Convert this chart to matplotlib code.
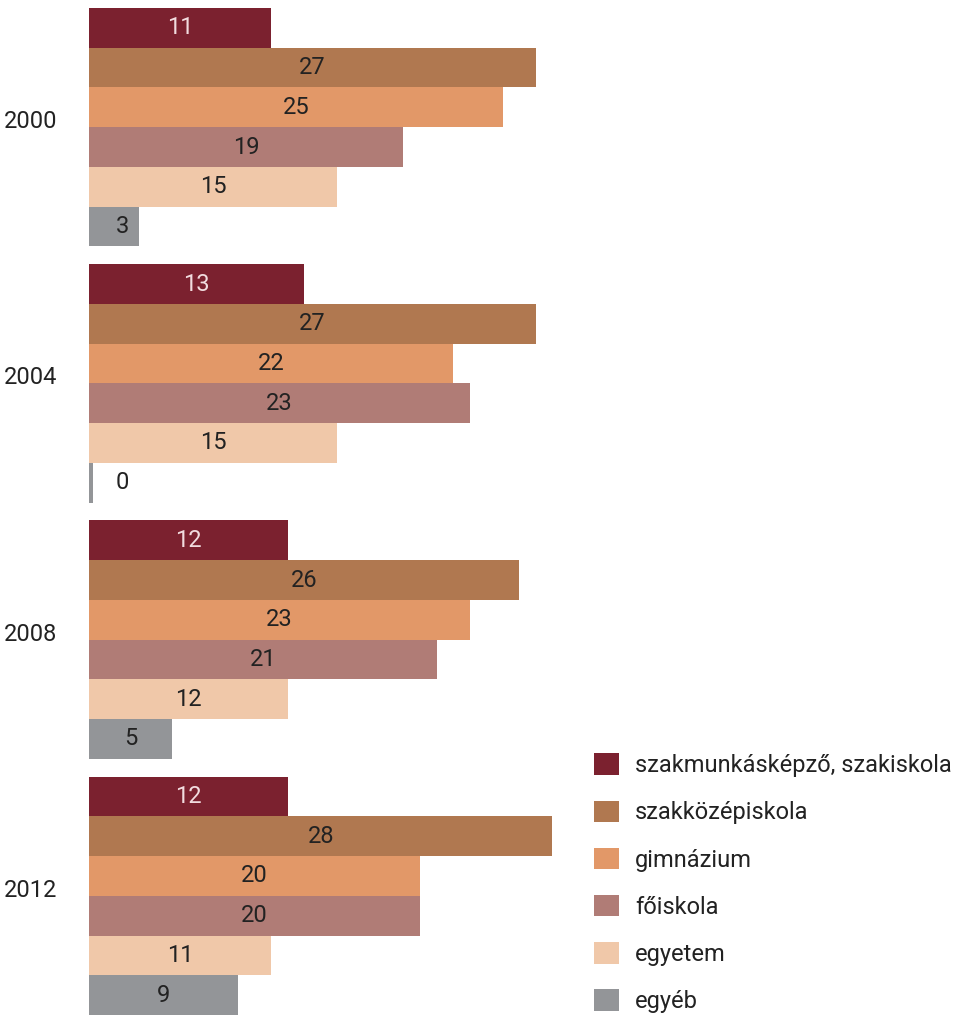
import matplotlib
matplotlib.use("Agg")
import matplotlib.pyplot as plt
from matplotlib.patches import Patch

years = ["2000", "2004", "2008", "2012"]
categories = ["szakmunkásképző, szakiskola", "szakközépiskola", "gimnázium",
              "főiskola", "egyetem", "egyéb"]
szakmunkas = [11, 13, 12, 12]
szakkozep = [27, 27, 26, 28]
gimnazium = [25, 22, 23, 20]
foiskola = [19, 23, 21, 20]
egyetem = [15, 15, 12, 11]
egyeb = [3, 0, 5, 9]
series = [szakmunkas, szakkozep, gimnazium, foiskola, egyetem, egyeb]

colors = ["#7B212F", "#B07850", "#E29868", "#B07C76", "#F0C8A9", "#939598"]
text_colors = ["#F2DCDF", "#222222", "#222222", "#222222", "#222222", "#222222"]

plt.rcParams['font.family'] = ['Roboto', 'DejaVu Sans']
FS = 17

W, H = 963, 1015
fig = plt.figure(figsize=(W / 100, H / 100), dpi=100)
px_per_unit = 16.55
xmax = 30
ax = fig.add_axes([89 / W, 0, xmax * px_per_unit / W, 1 - 8 / H])

period = 6.45
n = len(categories)
for g, year in enumerate(years):
    for i, (vals, c, tc) in enumerate(zip(series, colors, text_colors)):
        y = g * period + i + 0.5
        v = vals[g]
        w = v if v > 0 else 0.25
        ax.barh(y, w, height=1.0, color=c, linewidth=0)
        ax.text(max(v / 2, 2), y, str(v), ha="center", va="center",
                fontsize=FS, color=tc)

ax.set_ylim(3 * period + n, 0)
ax.set_xlim(0, xmax)
ax.set_yticks([g * period + n / 2 - 0.2 for g in range(len(years))])
ax.set_yticklabels(years, fontsize=FS, color="#222222")
ax.tick_params(axis="y", length=0, pad=23)
ax.set_xticks([])
for s in ax.spines.values():
    s.set_visible(False)

handles = [Patch(facecolor=c, edgecolor="none") for c in colors]
fig.legend(handles, categories, loc="upper left",
           bbox_to_anchor=(585 / W, 1 - 744 / H), frameon=False,
           fontsize=FS, handlelength=1.02, handleheight=1.02,
           labelspacing=0.99, handletextpad=0.7, labelcolor="#222222",
           borderaxespad=0)

fig.savefig("out.png", dpi=100)
